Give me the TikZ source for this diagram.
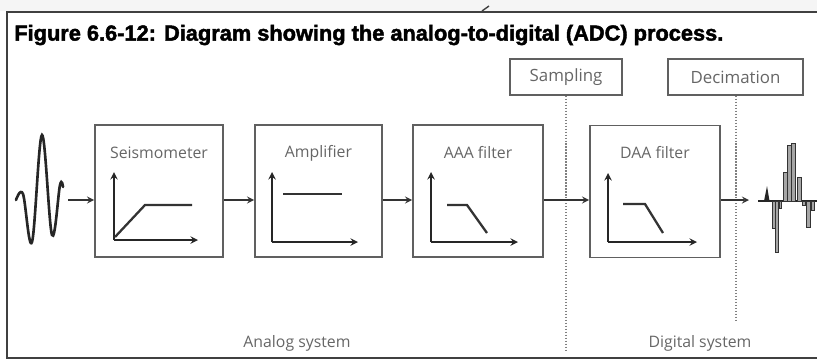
\documentclass[tikz,border=0pt]{standalone}
\usepackage{fontspec}
\newfontfamily\labelfont{Open Sans}
\newfontfamily\titlefont[FakeBold=2]{Liberation Sans}
\usetikzlibrary{arrows}

\tikzset{
  block/.style={draw=gray!75!black, line width=1pt, inner sep=0pt, minimum height=2.64cm},
  tagbox/.style={draw=gray!75!black, line width=0.8pt, inner sep=0pt, minimum height=0.72cm,
    font=\labelfont\fontsize{9.6}{11}\selectfont, text=gray!80!black},
  blocklabel/.style={font=\labelfont\fontsize{9}{11}\selectfont, text=gray!80!black, inner sep=0pt},
  flow/.style={->, >=stealth, line width=0.8pt, color=black!80},
  axis/.style={->, >=stealth, line width=0.9pt, color=black!85},
  resp/.style={line width=1.3pt, color=black!80},
  divider/.style={densely dotted, line width=0.7pt, color=gray},
  bar/.style={draw=black!80, fill=gray!70, line width=0.4pt}
}

\begin{document}
\begin{tikzpicture}[x=0.02cm, y=-0.02cm]
\useasboundingbox (0,0) rectangle (817,363);
%\draw[help lines] (0,0) grid[step=50] (817,363);

% frame and title
\fill[gray!8] (0,0) rectangle (817,11);
\draw[line width=1.2pt, color=black!75] (817,12) -- (7,12) -- (7,358) -- (817,358);
\draw[line width=0.8pt, color=black!75] (482,11) -- (489,6);
\node[anchor=west, inner sep=0pt, font=\titlefont\bfseries\fontsize{12.4}{14}\selectfont] (title) at (14,35)
  {Figure 6.6-12: Diagram showing the analog-to-digital (ADC) process.};

% processing blocks
\node[block, minimum width=2.56cm] (seis) at (159,191) {};
\node[block, minimum width=2.54cm] (amp) at (318.5,191) {};
\node[block, minimum width=2.60cm] (aaa) at (478,191) {};
\node[block, minimum width=2.60cm] (daa) at (655,191.5) {};

\node[blocklabel] (seis-t) at (159,153) {Seismometer};
\node[blocklabel] (amp-t) at (318.5,153) {Amplifier};
\node[blocklabel] (aaa-t) at (478,153) {AAA filter};
\node[blocklabel] (daa-t) at (655,153) {DAA filter};

% responses
\draw[axis] (114,240) -- (114,172);
\draw[axis] (114,240) -- (198,240);
\draw[resp] (115,237) -- (145,205) -- (192,205);

\draw[axis] (272,242) -- (272,172);
\draw[axis] (272,242) -- (358,242);
\draw[resp] (283,194) -- (342,194);

\draw[axis] (431,242) -- (431,172);
\draw[axis] (431,242) -- (518,242);
\draw[resp] (447,205) -- (467,205) -- (487,233);

\draw[axis] (608,242) -- (608,173);
\draw[axis] (608,242) -- (697,242);
\draw[resp] (623,204) -- (645,204) -- (663,233);

% sampling and decimation
\node[tagbox, minimum width=2.24cm] (samp) at (566,77) {Sampling};
\node[tagbox, minimum width=2.70cm] (decim) at (735.5,77) {Decimation};
\coordinate (samp-end) at (566,352);
\coordinate (decim-end) at (736,322);
\draw[divider] (samp) -- (samp-end);
\draw[divider] (decim.south -| decim-end) -- (decim-end);

% input wavelet
\draw[line width=1.5pt, color=black!85, line cap=round]
  plot[smooth, tension=0.6] coordinates {(16,200) (23,194) (32,242) (42,135) (52,235) (60,185) (63,187)};
\coordinate (wave) at (68,200);
\coordinate (digi) at (749,200);

% signal flow
\draw[flow] (wave) -- (seis.west |- wave);
\draw[flow] (seis.east |- wave) -- (amp.west |- wave);
\draw[flow] (amp.east |- wave) -- (aaa.west |- wave);
\draw[flow] (aaa.east |- wave) -- (daa.west |- wave);
\draw[flow] (daa.east |- wave) -- (digi);

% digital output
\draw[line width=1pt, color=black!85] (758,201) -- (817,201);
\fill[black!85] (764,201) -- (767,186) -- (769.5,201) -- cycle;
\foreach \a/\b/\c in {772/775/228, 775/778/252, 779/781/208, 783/787/172, 787/791/145,
  791/795/143, 797/801/177, 802/805/205, 806/810/227, 811/814/210}
  \draw[bar] (\a,201) rectangle (\b,\c);

% system labels
\node[blocklabel] (ana) at (297,343) {Analog system};
\node[blocklabel] (dig) at (700,343) {Digital system};
\end{tikzpicture}
\end{document}
